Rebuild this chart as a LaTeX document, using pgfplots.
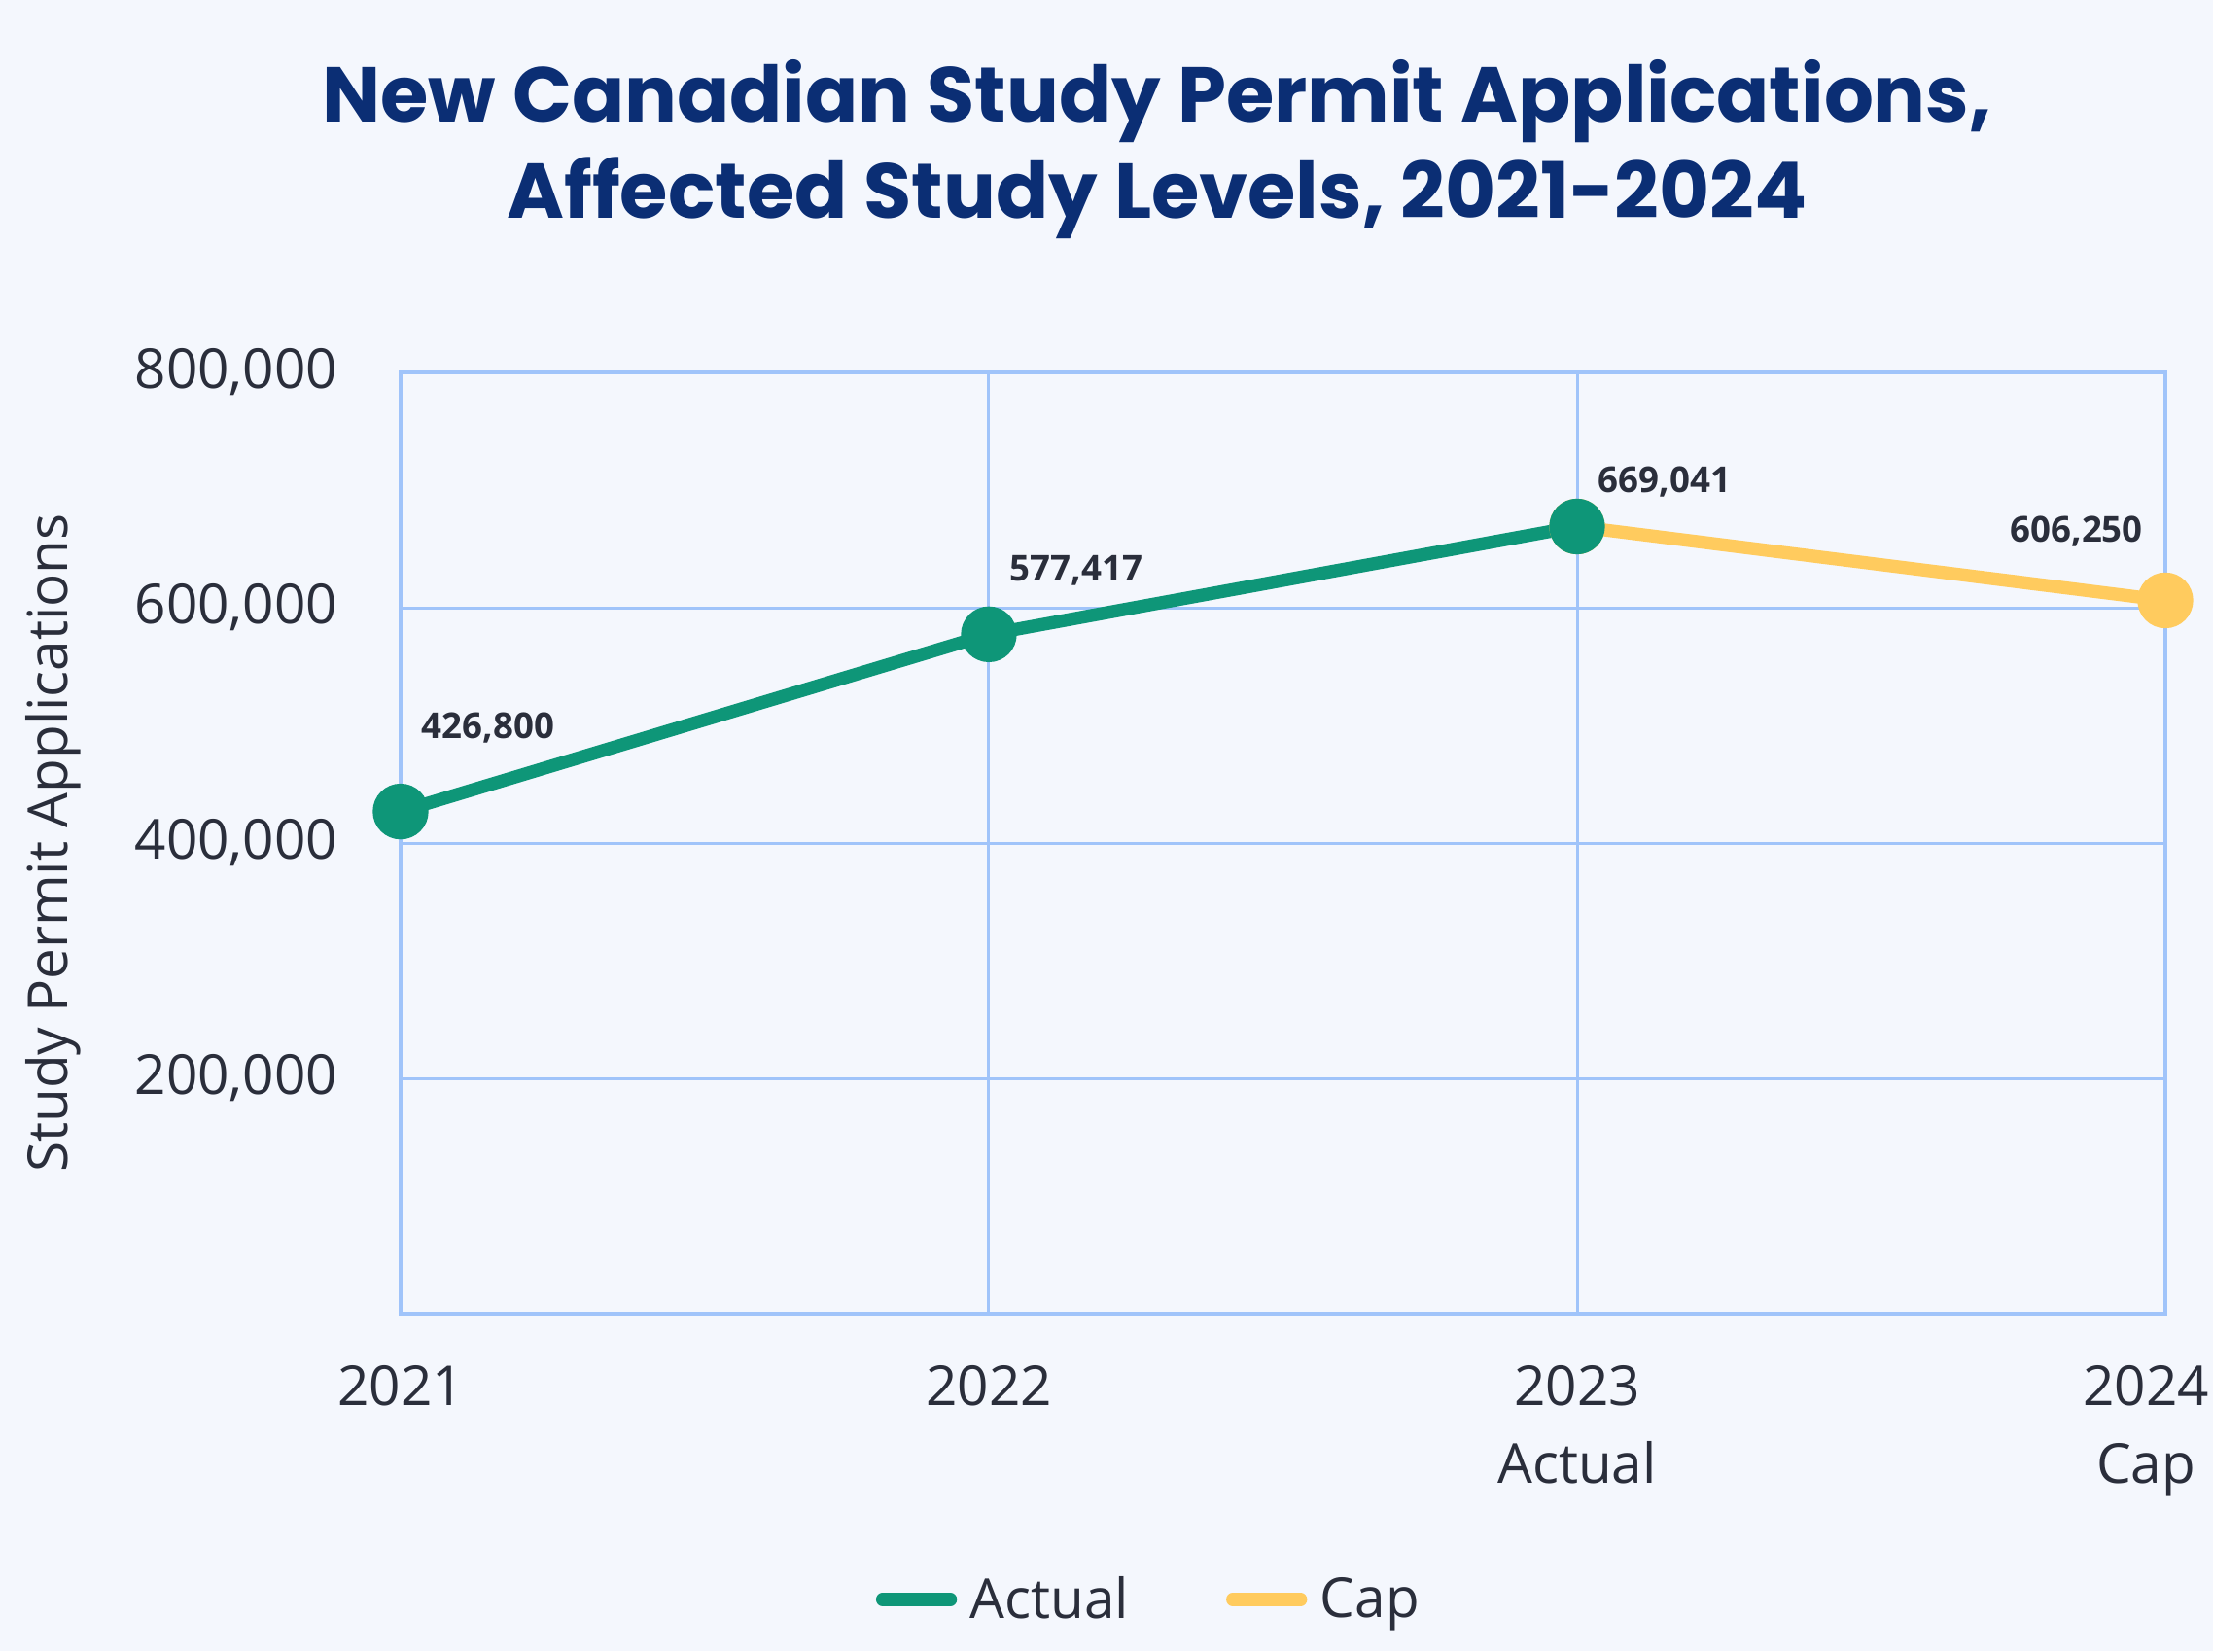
\documentclass[border=0pt]{standalone}
\usepackage{pgfplots}
\pgfplotsset{compat=1.18}
\usepackage{fontspec}
\setmainfont{Open Sans}
\newfontfamily\titlefont{Poppins}[BoldFont={Poppins Bold}]
\definecolor{bgcol}{HTML}{F4F7FD}
\definecolor{navy}{HTML}{0B2E74}
\definecolor{gridc}{HTML}{A0C4FA}
\definecolor{greenc}{HTML}{0E9678}
\definecolor{yellowc}{HTML}{FFCB5E}
\definecolor{txt}{HTML}{2A2E3B}
\pgfplotstableread{
x y
0 426800
1 577417
2 669041
}\actual
\pgfplotstableread{
x y
2 669041
3 606250
}\cap
\begin{document}
\begin{tikzpicture}
\fill[bgcol] (-123.6pt,-104.1pt) rectangle (559.2pt,405.3pt);
\useasboundingbox (-123.6pt,-104.1pt) rectangle (559.2pt,405.3pt);
\node[font=\titlefont\bfseries\fontsize{24}{29.5}\selectfont, text=navy, align=center] at (233.4pt,359.2pt) {New Canadian Study Permit Applications,\\Affected Study Levels, 2021-2024};
\begin{axis}[
  scale only axis, width=544.5pt, height=290.4pt,
  xmin=0, xmax=3, ymin=0, ymax=800000,
  clip=false,
  scaled y ticks=false,
  axis line style={draw=gridc, line width=1.1pt},
  grid=major, grid style={draw=gridc, line width=0.9pt},
  major tick length=0pt,
  xtick={0,1,2},
  xticklabels={2021,2022,{2023\\Actual}},
  extra x ticks={3},
  extra x tick labels={{2024\\Cap}},
  extra x tick style={grid=major, xticklabel style={xshift=-6pt}},
  xticklabel style={align=center, font=\fontsize{17}{24}\selectfont, text=txt, anchor=north, yshift=-12.5pt},
  ytick={200000,400000,600000,800000},
  yticklabels={{200,000},{400,000},{600,000},{800,000}},
  yticklabel style={font=\fontsize{17}{20}\selectfont, text=txt, anchor=east, xshift=-16pt},
  ylabel={Study Permit Applications},
  ylabel style={font=\fontsize{17}{20}\selectfont, text=txt},
  every axis y label/.append style={at={(-107.1pt,145.2pt)}, anchor=center},
  legend columns=2,
  legend style={at={(231.5pt,-88.2pt)}, anchor=center, draw=none, fill=none,
    font=\fontsize{17}{20}\selectfont, text=txt,
    /tikz/every even column/.append style={column sep=28pt},
    /tikz/every odd column/.append style={column sep=2pt}},
  legend image code/.code={\draw[line width=4pt, line cap=round] (2pt,0pt) -- (23pt,0pt);},
]
\addlegendimage{greenc}
\addlegendentry{Actual}
\addlegendimage{yellowc}
\addlegendentry{Cap}
\addplot[yellowc, line width=4pt, mark=*, mark size=6.6pt, mark options={fill=yellowc, draw=yellowc}, forget plot] table[x=x,y=y] {\cap};
\addplot[greenc, line width=4pt, mark=*, mark size=6.6pt, mark options={fill=greenc, draw=greenc}, forget plot] table[x=x,y=y] {\actual};
\node[font=\bfseries\fontsize{11}{13}\selectfont, text=txt] at (axis cs:0,426800) [xshift=27pt, yshift=25.7pt] {426,800};
\node[font=\bfseries\fontsize{11}{13}\selectfont, text=txt] at (axis cs:1,577417) [xshift=27pt, yshift=19.6pt] {577,417};
\node[font=\bfseries\fontsize{11}{13}\selectfont, text=txt] at (axis cs:2,669041) [xshift=27pt, yshift=13.9pt] {669,041};
\node[font=\bfseries\fontsize{11}{13}\selectfont, text=txt] at (axis cs:3,606250) [xshift=-27.4pt, yshift=21.3pt] {606,250};
\end{axis}
\end{tikzpicture}
\end{document}
